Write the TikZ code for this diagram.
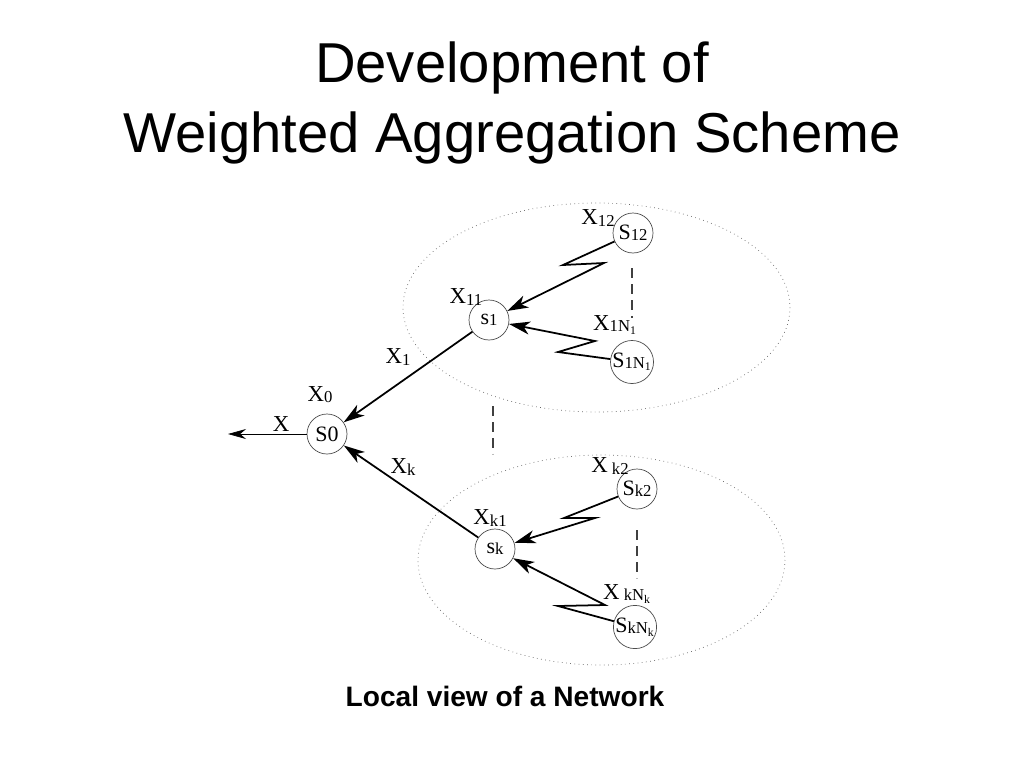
\documentclass[tikz,border=0pt]{standalone}
\usepackage{fontspec}
\setmainfont{Liberation Serif}
\newfontfamily\titlefont{Liberation Sans}
\usetikzlibrary{arrows.meta}
\newcommand{\idx}[1]{\raisebox{-0.1ex}{\fontsize{9.5}{10}\selectfont #1}}
\begin{document}
\begin{tikzpicture}[x=0.02cm,y=-0.02cm,
  sensor/.style={circle,draw=black!70,thin,minimum size=0.8cm,inner sep=0pt,font=\fontsize{12.5}{14}\selectfont},
  lbl/.style={font=\fontsize{13}{15}\selectfont,inner sep=0pt},
  wire/.style={line width=1pt,-{Stealth[length=0.42cm,width=0.26cm,inset=0.12cm]}},
  zona/.style={dotted,black!60,thin},
  puntos/.style={line width=1.2pt,black!75,dash pattern=on 0.2cm off 0.12cm}]
\useasboundingbox (0,0) rectangle (1024,768);

\node[font=\titlefont\fontsize{32}{38}\selectfont,anchor=base] (title1) at (512,82) {Development of}; % titulo 1
\node[font=\titlefont\fontsize{32}{38}\selectfont,anchor=base] (title2) at (512,152) {Weighted Aggregation Scheme}; % titulo 2

\draw[zona] (596.5,307.5) ellipse [x radius=193.5, y radius=104.5]; % zona 1
\draw[zona] (601.5,560) ellipse [x radius=183.5, y radius=105]; % zona k

\node[sensor] (s0) at (327,434) {S0}; % nodo s0
\node[sensor] (s1) at (489,320) {s\idx{1}}; % nodo s1
\node[sensor] (s12) at (633,233) {S\idx{12}}; % nodo s12
\node[sensor] (s1N) at (632,362) {S\idx{1N\textsubscript{1}}}; % nodo s1N1
\node[sensor] (sk) at (495,549) {s\idx{k}}; % nodo sk
\node[sensor] (sk2) at (637,489) {S\idx{k2}}; % nodo sk2
\node[sensor] (skN) at (635,627) {S\idx{kN\textsubscript{k}}}; % nodo skNk

\coordinate (out) at (228,434); % salida
\coordinate (z12a) at (563,265); % zigzag 12
\coordinate (z12b) at (604,263);
\coordinate (z1Na) at (558,352); % zigzag 1N1
\coordinate (z1Nb) at (595,341);
\coordinate (zk2a) at (564,518); % zigzag k2
\coordinate (zk2b) at (595,518);
\coordinate (zkNa) at (558,606); % zigzag kNk
\coordinate (zkNb) at (605,605);

\draw[thin,-{Stealth[length=0.36cm,width=0.2cm]}] (s0) -- (out); % salida x
\draw[wire] (s1) -- (s0); % x1
\draw[wire] (sk) -- (s0); % xk
\draw[wire] (s12) -- (z12a) -- (z12b) -- (s1); % x12
\draw[wire] (s1N) -- (z1Na) -- (z1Nb) -- (s1); % x1N1
\draw[wire] (sk2) -- (zk2a) -- (zk2b) -- (sk); % xk2
\draw[wire] (skN) -- (zkNa) -- (zkNb) -- (sk); % xkNk

\draw[puntos] (632,268) -- (632,318); % puntos zona 1
\draw[puntos] (493,406) -- (493,454); % puntos entre zonas
\draw[puntos] (637,530) -- (637,578); % puntos zona k

\node[lbl] (lx) at (281,424) {X}; % etiqueta x
\node[lbl] (lx0) at (320,395) {X\idx{0}};
\node[lbl] (lx1) at (398,357) {X\idx{1}};
\node[lbl] (lxk) at (403,467) {X\idx{k}};
\node[lbl] (lx11) at (466,297) {X\idx{11}};
\node[lbl] (lx12) at (598,218) {X\idx{12}};
\node[lbl] (lx1N) at (615,325) {X\idx{1N\textsubscript{1}}};
\node[lbl] (lxk1) at (490,518) {X\idx{k1}};
\node[lbl] (lxk2) at (610,466) {X\idx{ k2}};
\node[lbl] (lxkN) at (627,594) {X\idx{ kN\textsubscript{k}}};

\node[font=\titlefont\bfseries\fontsize{16}{19}\selectfont,anchor=base] (caption) at (505,706) {Local view of a Network}; % pie
\end{tikzpicture}
\end{document}
